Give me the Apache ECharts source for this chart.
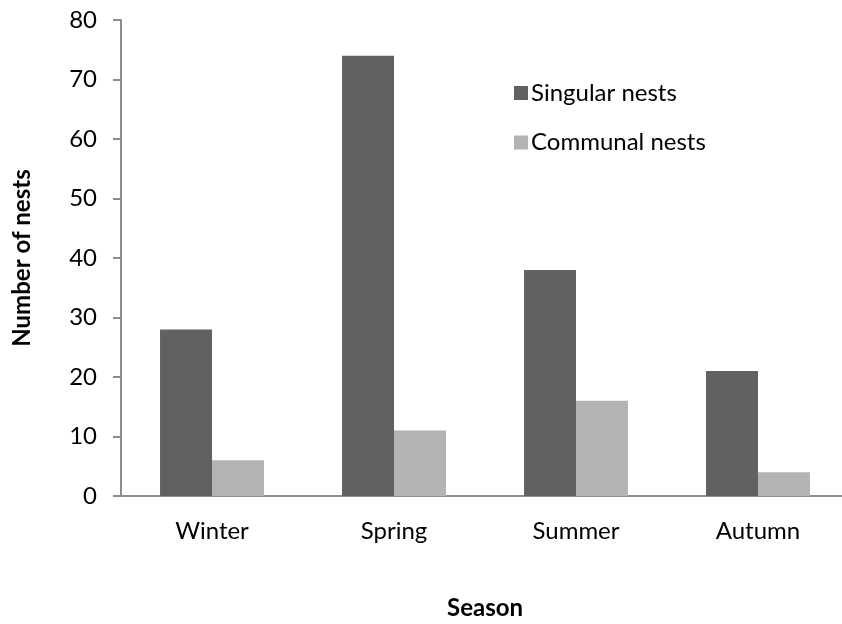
<!DOCTYPE html>
<html>
<head>
<meta charset="utf-8">
<script src="https://cdn.jsdelivr.net/npm/echarts@6/dist/echarts.min.js"></script>
<style>
  html, body { margin: 0; padding: 0; background: #fff; }
  #chart { width: 842px; height: 624px; }
</style>
</head>
<body>
<div id="chart"></div>
<script>
// Nest counts by season
const seasons = ['Winter', 'Spring', 'Summer', 'Autumn'];
const singularNests = [28, 74, 38, 21];
const communalNests = [6, 11, 16, 4];
const yTicks = { min: 0, max: 80, interval: 10 };

const FONT = 'Lato, "Open Sans", sans-serif';
const AXIS_COLOR = '#8c8c8c';
const LABEL_SIZE = 24;

const chart = echarts.init(document.getElementById('chart'), null, { renderer: 'canvas' });
chart.setOption({
  animation: false,
  backgroundColor: '#ffffff',
  textStyle: { fontFamily: FONT },
  // plot band runs slightly past the right edge of the canvas
  grid: {
    left: 121, width: 728, top: 20, height: 476,
    containLabel: false,
    outerBoundsMode: 'none'
  },
  legend: {
    orient: 'vertical',
    left: 509,
    top: 76,
    itemWidth: 14,
    itemHeight: 14,
    itemGap: 25.5,
    icon: 'rect',
    textStyle: { fontFamily: FONT, fontSize: LABEL_SIZE, color: '#000', padding: [0, 0, 0, -2] },
    data: ['Singular nests', 'Communal nests']
  },
  xAxis: {
    type: 'category',
    data: seasons,
    name: 'Season',
    nameLocation: 'middle',
    nameGap: 100,
    nameTextStyle: { fontFamily: FONT, fontSize: LABEL_SIZE, fontWeight: 'bold', color: '#000' },
    axisLine: { lineStyle: { color: AXIS_COLOR, width: 2 } },
    axisTick: { show: false },
    axisLabel: { fontFamily: FONT, fontSize: LABEL_SIZE, color: '#000', margin: 23 },
    splitLine: { show: false }
  },
  yAxis: {
    type: 'value',
    min: yTicks.min,
    max: yTicks.max,
    interval: yTicks.interval,
    name: 'Number of nests',
    nameLocation: 'middle',
    nameGap: 87,
    nameRotate: 90,
    nameTextStyle: { fontFamily: FONT, fontSize: LABEL_SIZE, fontWeight: 'bold', color: '#000' },
    axisLine: { show: true, lineStyle: { color: AXIS_COLOR, width: 2 } },
    axisTick: { show: true, length: 8, lineStyle: { color: AXIS_COLOR, width: 2 } },
    axisLabel: { fontFamily: FONT, fontSize: LABEL_SIZE, color: '#000', margin: 24 },
    splitLine: { show: false }
  },
  series: [
    {
      name: 'Singular nests',
      type: 'bar',
      data: singularNests,
      barGap: '0%',
      barCategoryGap: '42.9%',
      itemStyle: { color: '#616161' }
    },
    {
      name: 'Communal nests',
      type: 'bar',
      data: communalNests,
      barGap: '0%',
      barCategoryGap: '42.9%',
      itemStyle: { color: '#b3b3b3' }
    }
  ]
});
</script>
</body>
</html>
